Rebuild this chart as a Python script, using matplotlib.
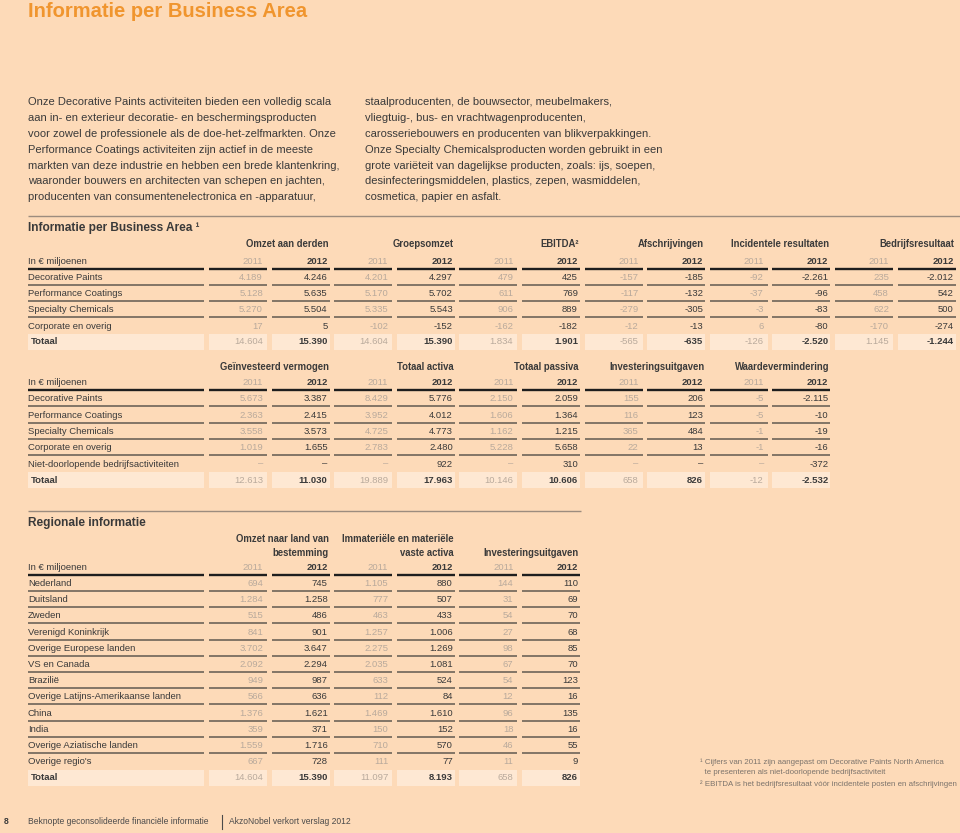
import matplotlib
matplotlib.use("Agg")
import matplotlib.pyplot as plt
from matplotlib.patches import Rectangle

FONT = "Liberation Sans"
BG = "#FDDAB8"
BOX = "#FEE8D3"
DARK = "#3a3a3a"
GRAY = "#b9aa9c"
ORANGE = "#F0952E"
RULE = "#9c8c7e"
LINE = "#615950"

# ---------------- data ----------------
title = "Informatie per Business Area"
body_left = [
    "Onze Decorative Paints activiteiten bieden een volledig scala",
    "aan in- en exterieur decoratie- en beschermingsproducten",
    "voor zowel de professionele als de doe-het-zelfmarkten. Onze",
    "Performance Coatings activiteiten zijn actief in de meeste",
    "markten van deze industrie en hebben een brede klantenkring,",
    "waaronder bouwers en architecten van schepen en jachten,",
    "producenten van consumentenelectronica en -apparatuur,",
]
body_right = [
    "staalproducenten, de bouwsector, meubelmakers,",
    "vliegtuig-, bus- en vrachtwagenproducenten,",
    "carosseriebouwers en producenten van blikverpakkingen.",
    "Onze Specialty Chemicalsproducten worden gebruikt in een",
    "grote variëteit van dagelijkse producten, zoals: ijs, soepen,",
    "desinfecteringsmiddelen, plastics, zepen, wasmiddelen,",
    "cosmetica, papier en asfalt.",
]

t1_title = "Informatie per Business Area ¹"
t1_rows = ["Decorative Paints", "Performance Coatings", "Specialty Chemicals",
           "Corporate en overig", "Totaal"]
t1_headers = ["Omzet aan derden", "Groepsomzet", "EBITDA²", "Afschrijvingen",
              "Incidentele resultaten", "Bedrijfsresultaat"]
omzet_derden_2011 = [4189, 5128, 5270, 17, 14604]
omzet_derden_2012 = [4246, 5635, 5504, 5, 15390]
groepsomzet_2011 = [4201, 5170, 5335, -102, 14604]
groepsomzet_2012 = [4297, 5702, 5543, -152, 15390]
ebitda_2011 = [479, 611, 906, -162, 1834]
ebitda_2012 = [425, 769, 889, -182, 1901]
afschr_2011 = [-157, -117, -279, -12, -565]
afschr_2012 = [-185, -132, -305, -13, -635]
incid_2011 = [-92, -37, -3, 6, -126]
incid_2012 = [-2261, -96, -83, -80, -2520]
bedrijfsres_2011 = [235, 458, 622, -170, 1145]
bedrijfsres_2012 = [-2012, 542, 500, -274, -1244]

t2_rows = ["Decorative Paints", "Performance Coatings", "Specialty Chemicals",
           "Corporate en overig", "Niet-doorlopende bedrijfsactiviteiten", "Totaal"]
t2_headers = ["Geïnvesteerd vermogen", "Totaal activa", "Totaal passiva",
              "Investeringsuitgaven", "Waardevermindering"]
geinv_2011 = [5673, 2363, 3558, 1019, None, 12613]
geinv_2012 = [3387, 2415, 3573, 1655, None, 11030]
activa_2011 = [8429, 3952, 4725, 2783, None, 19889]
activa_2012 = [5776, 4012, 4773, 2480, 922, 17963]
passiva_2011 = [2150, 1606, 1162, 5228, None, 10146]
passiva_2012 = [2059, 1364, 1215, 5658, 310, 10606]
invest_2011 = [155, 116, 365, 22, None, 658]
invest_2012 = [206, 123, 484, 13, None, 826]
waardev_2011 = [-5, -5, -1, -1, None, -12]
waardev_2012 = [-2115, -10, -19, -16, -372, -2532]

t3_title = "Regionale informatie"
t3_rows = ["Nederland", "Duitsland", "Zweden", "Verenigd Koninkrijk",
           "Overige Europese landen", "VS en Canada", "Brazilië",
           "Overige Latijns-Amerikaanse landen", "China", "India",
           "Overige Aziatische landen", "Overige regio's", "Totaal"]
t3_headers = [["Omzet naar land van", "bestemming"],
              ["Immateriële en materiële", "vaste activa"],
              ["", "Investeringsuitgaven"]]
reg_omzet_2011 = [694, 1284, 515, 841, 3702, 2092, 949, 566, 1376, 359, 1559, 667, 14604]
reg_omzet_2012 = [745, 1258, 486, 901, 3647, 2294, 987, 636, 1621, 371, 1716, 728, 15390]
reg_vaste_2011 = [1105, 777, 463, 1257, 2275, 2035, 633, 112, 1469, 150, 710, 111, 11097]
reg_vaste_2012 = [880, 507, 433, 1006, 1269, 1081, 524, 84, 1610, 152, 570, 77, 8193]
reg_invest_2011 = [144, 31, 54, 27, 98, 67, 54, 12, 96, 18, 46, 11, 658]
reg_invest_2012 = [110, 69, 70, 68, 85, 70, 123, 16, 135, 16, 55, 9, 826]

years = ["2011", "2012"]
unit_label = "In € miljoenen"
footnotes = ["¹ Cijfers van 2011 zijn aangepast om Decorative Paints North America",
             "  te presenteren als niet-doorlopende bedrijfsactiviteit",
             "² EBITDA is het bedrijfsresultaat vóór incidentele posten en afschrijvingen"]
footer_page = "8"
footer_left = "Beknopte geconsolideerde financiële informatie"
footer_right = "AkzoNobel verkort verslag 2012"

# ---------------- figure ----------------
fig = plt.figure(figsize=(9.6, 8.33), dpi=100)
fig.patch.set_facecolor(BG)
ax = fig.add_axes([0, 0, 1, 1])
ax.set_xlim(0, 960)
ax.set_ylim(833, 0)
ax.axis("off")
ax.set_facecolor(BG)
renderer = fig.canvas.get_renderer()


def fit(text, target, weight="normal"):
    t = ax.text(0, 0, text, fontsize=10, fontweight=weight, family=FONT)
    w = t.get_window_extent(renderer).width
    t.remove()
    return 10 * target / w


FS_TITLE = fit(title, 280, "bold")
FS_BODY = fit(body_left[0], 303)
FS_SEC = fit("Informatie per Business Area", 165, "bold")
FS_TAB = fit("Performance Coatings", 95)
FS_HEAD = fit("Omzet aan derden", 83, "bold")
FS_FOOTN = fit(footnotes[2], 257)
FS_FOOT = fit(footer_left, 181)


def txt(x, y, s, size, color=DARK, weight="normal", ha="left"):
    ax.text(x, y, s, fontsize=size, color=color, fontweight=weight,
            family=FONT, ha=ha, va="center")


def fmt(v):
    if v is None:
        return "–"
    s = f"{abs(v):,}".replace(",", ".")
    return ("-" if v < 0 else "") + s


LABEL_L, LABEL_R = 28, 204
COL0, PITCH, CW = 209, 62.6, 58


def col_left(i):
    return COL0 + PITCH * i


def hline(x0, x1, y, lw, color):
    ax.plot([x0, x1], [y, y], color=color, lw=lw, solid_capstyle="butt")


def table(rows, series, head_y, year_y, row_ys, header_lines):
    ncol = len(series)
    for k, lines in enumerate(header_lines):
        xr = col_left(2 * k + 1) + CW - 1
        for j, h in enumerate(lines):
            if h:
                txt(xr, head_y[j], h, FS_HEAD, weight="bold", ha="right")
    txt(LABEL_L, year_y, unit_label, FS_TAB)
    hline(LABEL_L, LABEL_R, year_y + 7.5, 1.7, "#1e1e1e")
    for i in range(ncol):
        if i % 2 == 0:
            txt(col_left(i) + CW - 4, year_y, years[0], FS_TAB, color=GRAY, ha="right")
        else:
            txt(col_left(i) + CW - 2, year_y, years[1], FS_TAB, weight="bold", ha="right")
        hline(col_left(i), col_left(i) + CW, year_y + 7.5, 1.7, "#1e1e1e")
    n = len(rows)
    for r in range(n):
        y = row_ys[r]
        last = r == n - 1
        if last:
            ax.add_patch(Rectangle((LABEL_L, y - 8), LABEL_R - LABEL_L, 16,
                                   facecolor=BOX, edgecolor="none"))
            txt(LABEL_L + 3, y, rows[r], FS_TAB, weight="bold")
        else:
            txt(LABEL_L, y, rows[r], FS_TAB)
        for i in range(ncol):
            v = series[i][r]
            if last:
                ax.add_patch(Rectangle((col_left(i), y - 8), CW, 16,
                                       facecolor=BOX, edgecolor="none"))
            if i % 2 == 0:
                txt(col_left(i) + CW - 4, y, fmt(v), FS_TAB, color=GRAY, ha="right")
            else:
                txt(col_left(i) + CW - 2, y, fmt(v), FS_TAB,
                    weight="bold" if last else "normal", ha="right")
        if r < n - 2:
            hline(LABEL_L, LABEL_R, y + 7.5, 1.1, LINE)
            for i in range(ncol):
                hline(col_left(i), col_left(i) + CW, y + 7.5, 1.1, LINE)


# title
txt(28, 11.5, title, FS_TITLE, color=ORANGE, weight="bold")

# body
body_y = [102, 118, 134, 149.5, 165.5, 181, 197]
for y, s in zip(body_y, body_left):
    txt(28, y, s, FS_BODY)
for y, s in zip(body_y, body_right):
    txt(365, y, s, FS_BODY)

# rule
hline(28, 960, 216, 1.0, RULE)

# table 1
txt(28, 227.5, t1_title, FS_SEC, weight="bold")
table(t1_rows,
      [omzet_derden_2011, omzet_derden_2012, groepsomzet_2011, groepsomzet_2012,
       ebitda_2011, ebitda_2012, afschr_2011, afschr_2012, incid_2011, incid_2012,
       bedrijfsres_2011, bedrijfsres_2012],
      [244], 261, [277, 293.3, 309.6, 326, 341.5], [[h] for h in t1_headers])

# table 2
table(t2_rows,
      [geinv_2011, geinv_2012, activa_2011, activa_2012, passiva_2011, passiva_2012,
       invest_2011, invest_2012, waardev_2011, waardev_2012],
      [366.5], 382.5, [398.5, 415, 431.5, 447.5, 464, 480], [[h] for h in t2_headers])

# table 3
hline(28, 581, 511, 1.0, RULE)
txt(28, 523, t3_title, FS_SEC, weight="bold")
t3_y = [583.5 + 16.2 * k for k in range(len(t3_rows))]
table(t3_rows,
      [reg_omzet_2011, reg_omzet_2012, reg_vaste_2011, reg_vaste_2012,
       reg_invest_2011, reg_invest_2012],
      [539, 552.5], 567.5, t3_y, t3_headers)

# footnotes
for y, s in zip([762, 773, 784], footnotes):
    txt(700, y, s, FS_FOOTN, color="#7d746c")

# footer
txt(4, 822, footer_page, FS_FOOT, weight="bold")
txt(28, 822, footer_left, FS_FOOT, color="#4a4a4a")
ax.plot([222, 222], [815, 829], color="#4a4a4a", lw=0.8)
txt(229, 822, footer_right, FS_FOOT, color="#4a4a4a")

fig.savefig("out.png", dpi=100, facecolor=BG)
